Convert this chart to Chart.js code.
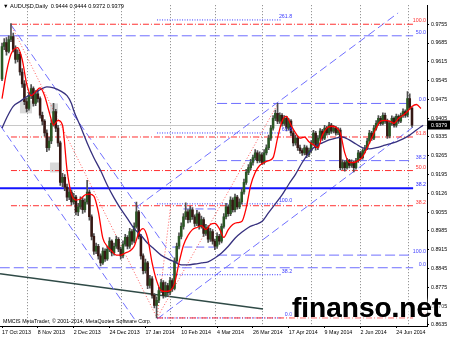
<!DOCTYPE html>
<html>
<head>
<meta charset="utf-8">
<script src="https://cdn.jsdelivr.net/npm/chart.js@4.4.1/dist/chart.umd.min.js"></script>
<style>
  html, body { margin: 0; padding: 0; background: #fff; }
  #wrap { position: relative; width: 450px; height: 337px; }
</style>
</head>
<body>
<div id="wrap"><canvas id="chart" width="450" height="337"></canvas></div>
<script>
// AUDUSD daily, 17 Oct 2013 .. early Jul 2014 (one entry per trading day)

const opens = [
  0.9551,0.9672,0.9687,0.9654,0.9698,0.9709,0.9661,0.9624,0.9643,0.9577,
  0.9533,0.9467,0.9441,0.9489,0.9515,0.9460,0.9496,0.9478,0.9416,0.9394,
  0.9350,0.9295,0.9320,0.9386,0.9430,0.9368,0.9313,0.9166,0.9185,0.9148,
  0.9111,0.9130,0.9093,0.9111,0.9056,0.9075,0.9100,0.9064,0.9093,0.9130,
  0.9038,0.8965,0.8910,0.8928,0.8892,0.8866,0.8910,0.8881,0.8917,0.8947,
  0.8903,0.8928,0.8954,0.8917,0.8892,0.8936,0.8961,0.8928,0.8983,0.8947,
  0.9002,0.9056,0.8965,0.8892,0.8837,0.8866,0.8782,0.8807,0.8745,0.8708,
  0.8727,0.8763,0.8793,0.8745,0.8782,0.8756,0.8800,0.8771,0.8873,0.8928,
  0.8965,0.9002,0.9038,0.9056,0.9027,0.9064,0.9038,0.9013,0.9049,0.9002,
  0.9027,0.8976,0.8998,0.8954,0.8983,0.8947,0.8928,0.8965,0.8947,0.9002,
  0.9038,0.9075,0.9049,0.9100,0.9064,0.9111,0.9075,0.9093,0.9130,0.9166,
  0.9203,0.9221,0.9240,0.9258,0.9276,0.9247,0.9269,0.9240,0.9276,0.9295,
  0.9331,0.9368,0.9405,0.9423,0.9394,0.9416,0.9386,0.9405,0.9368,0.9394,
  0.9350,0.9313,0.9331,0.9295,0.9284,0.9276,0.9295,0.9269,0.9284,0.9313,
  0.9350,0.9295,0.9331,0.9357,0.9331,0.9368,0.9350,0.9379,0.9357,0.9368,
  0.9350,0.9361,0.9221,0.9240,0.9221,0.9247,0.9229,0.9240,0.9221,0.9247,
  0.9276,0.9258,0.9284,0.9295,0.9320,0.9350,0.9331,0.9368,0.9386,0.9405,
  0.9386,0.9416,0.9394,0.9339,0.9386,0.9405,0.9379,0.9412,0.9394,0.9416,
  0.9430,0.9416,0.9478,0.9444
];
const highs = [
  0.9685,0.9702,0.9705,0.9712,0.9757,0.9722,0.9675,0.9660,0.9650,0.9590,
  0.9545,0.9480,0.9500,0.9530,0.9522,0.9508,0.9510,0.9485,0.9428,0.9400,
  0.9362,0.9335,0.9398,0.9460,0.9438,0.9378,0.9320,0.9200,0.9195,0.9160,
  0.9145,0.9138,0.9125,0.9118,0.9088,0.9112,0.9108,0.9105,0.9174,0.9138,
  0.9045,0.8975,0.8940,0.8935,0.8900,0.8922,0.8918,0.8928,0.8960,0.8952,
  0.8940,0.8966,0.8960,0.8925,0.8948,0.8972,0.8968,0.8995,0.8990,0.9015,
  0.9093,0.9062,0.8972,0.8900,0.8880,0.8872,0.8820,0.8815,0.8752,0.8740,
  0.8775,0.8805,0.8800,0.8795,0.8790,0.8812,0.8808,0.8885,0.8940,0.8978,
  0.9015,0.9050,0.9090,0.9065,0.9078,0.9072,0.9045,0.9062,0.9055,0.9040,
  0.9035,0.9010,0.9005,0.8995,0.8990,0.8955,0.8978,0.8972,0.9012,0.9050,
  0.9088,0.9082,0.9112,0.9108,0.9122,0.9118,0.9105,0.9142,0.9178,0.9215,
  0.9232,0.9252,0.9268,0.9288,0.9284,0.9280,0.9276,0.9288,0.9306,0.9342,
  0.9378,0.9415,0.9435,0.9460,0.9425,0.9422,0.9415,0.9412,0.9404,0.9400,
  0.9358,0.9342,0.9338,0.9305,0.9292,0.9305,0.9302,0.9294,0.9322,0.9360,
  0.9356,0.9340,0.9366,0.9364,0.9378,0.9375,0.9390,0.9386,0.9378,0.9375,
  0.9370,0.9368,0.9250,0.9246,0.9256,0.9252,0.9250,0.9246,0.9256,0.9285,
  0.9282,0.9292,0.9304,0.9330,0.9360,0.9356,0.9378,0.9396,0.9415,0.9412,
  0.9425,0.9424,0.9402,0.9394,0.9414,0.9410,0.9420,0.9418,0.9424,0.9440,
  0.9436,0.9504,0.9496,0.9444
];
const lows = [
  0.9545,0.9660,0.9640,0.9648,0.9690,0.9652,0.9610,0.9615,0.9565,0.9520,
  0.9455,0.9428,0.9435,0.9478,0.9450,0.9452,0.9465,0.9405,0.9380,0.9338,
  0.9280,0.9286,0.9310,0.9375,0.9355,0.9300,0.9155,0.9150,0.9135,0.9098,
  0.9102,0.9082,0.9085,0.9045,0.9042,0.9066,0.9050,0.9055,0.9085,0.9025,
  0.8952,0.8898,0.8900,0.8880,0.8855,0.8860,0.8872,0.8875,0.8908,0.8892,
  0.8895,0.8920,0.8908,0.8880,0.8885,0.8928,0.8918,0.8920,0.8935,0.8940,
  0.8995,0.8955,0.8880,0.8825,0.8828,0.8770,0.8772,0.8735,0.8698,0.8661,
  0.8718,0.8755,0.8735,0.8738,0.8745,0.8748,0.8760,0.8765,0.8865,0.8918,
  0.8955,0.8992,0.9028,0.9015,0.9018,0.9028,0.9002,0.9005,0.8992,0.8995,
  0.8965,0.8968,0.8942,0.8946,0.8936,0.8915,0.8920,0.8935,0.8940,0.8995,
  0.9030,0.9040,0.9042,0.9055,0.9056,0.9066,0.9068,0.9085,0.9122,0.9158,
  0.9195,0.9212,0.9230,0.9250,0.9238,0.9240,0.9232,0.9234,0.9268,0.9288,
  0.9322,0.9360,0.9396,0.9385,0.9386,0.9375,0.9378,0.9358,0.9360,0.9340,
  0.9302,0.9305,0.9285,0.9274,0.9266,0.9268,0.9258,0.9262,0.9276,0.9305,
  0.9286,0.9288,0.9322,0.9322,0.9325,0.9342,0.9344,0.9348,0.9350,0.9342,
  0.9344,0.9212,0.9214,0.9208,0.9215,0.9220,0.9222,0.9205,0.9215,0.9240,
  0.9250,0.9252,0.9276,0.9288,0.9312,0.9322,0.9325,0.9360,0.9378,0.9378,
  0.9380,0.9386,0.9330,0.9332,0.9378,0.9372,0.9372,0.9386,0.9388,0.9408,
  0.9408,0.9410,0.9438,0.9372
];
const closes = [
  0.9672,0.9687,0.9654,0.9698,0.9709,0.9661,0.9624,0.9643,0.9577,0.9533,
  0.9467,0.9441,0.9489,0.9515,0.9460,0.9496,0.9478,0.9416,0.9394,0.9350,
  0.9295,0.9320,0.9386,0.9430,0.9368,0.9313,0.9166,0.9185,0.9148,0.9111,
  0.9130,0.9093,0.9111,0.9056,0.9075,0.9100,0.9064,0.9093,0.9130,0.9038,
  0.8965,0.8910,0.8928,0.8892,0.8866,0.8910,0.8881,0.8917,0.8947,0.8903,
  0.8928,0.8954,0.8917,0.8892,0.8936,0.8961,0.8928,0.8983,0.8947,0.9002,
  0.9056,0.8965,0.8892,0.8837,0.8866,0.8782,0.8807,0.8745,0.8708,0.8727,
  0.8763,0.8793,0.8745,0.8782,0.8756,0.8800,0.8771,0.8873,0.8928,0.8965,
  0.9002,0.9038,0.9056,0.9027,0.9064,0.9038,0.9013,0.9049,0.9002,0.9027,
  0.8976,0.8998,0.8954,0.8983,0.8947,0.8928,0.8965,0.8947,0.9002,0.9038,
  0.9075,0.9049,0.9100,0.9064,0.9111,0.9075,0.9093,0.9130,0.9166,0.9203,
  0.9221,0.9240,0.9258,0.9276,0.9247,0.9269,0.9240,0.9276,0.9295,0.9331,
  0.9368,0.9405,0.9423,0.9394,0.9416,0.9386,0.9405,0.9368,0.9394,0.9350,
  0.9313,0.9331,0.9295,0.9284,0.9276,0.9295,0.9269,0.9284,0.9313,0.9350,
  0.9295,0.9331,0.9357,0.9331,0.9368,0.9350,0.9379,0.9357,0.9368,0.9350,
  0.9361,0.9221,0.9240,0.9221,0.9247,0.9229,0.9240,0.9221,0.9247,0.9276,
  0.9258,0.9284,0.9295,0.9320,0.9350,0.9331,0.9368,0.9386,0.9405,0.9386,
  0.9416,0.9394,0.9339,0.9386,0.9405,0.9379,0.9412,0.9394,0.9416,0.9430,
  0.9416,0.9478,0.9445,0.9379
];

// moving averages (drawn shifted forward, as on the terminal)
const fastMaIdx = [0,2,4,7,9,11,13,15,17,19,21,23,25,27,29,31,33,35,37,39,41,43,45,47,49,51,53,55,57,59,
  61,63,65,67,69,71,73,75,77,79,81,83,85,87,89,91,93,95,97,99,101,103,105,107,109,111,113,115,117,119,
  121,123,125,127,129,131,133,135,137,139,141,143,145,147,149,151,153,155,157,159,161,163,165,167,169,171,173,175,177,179,
  181,183,185,187];
const fastMaVal = [0.9478,0.9577,0.9643,0.9668,0.9624,0.9533,0.9489,0.9504,0.9518,0.9489,
  0.9430,0.9379,0.9397,0.9379,0.9214,0.9122,0.9100,0.9104,0.9119,0.9122,
  0.9115,0.9056,0.8958,0.8928,0.8910,0.8895,0.8895,0.8903,0.8910,0.8928,
  0.8976,0.8994,0.8958,0.8866,0.8800,0.8763,0.8760,0.8763,0.8789,0.8866,
  0.8932,0.8968,0.8990,0.8998,0.9005,0.8990,0.9009,0.9013,0.8994,0.8961,
  0.8990,0.9009,0.9016,0.9020,0.9071,0.9155,0.9203,0.9229,0.9240,0.9247,
  0.9258,0.9331,0.9394,0.9412,0.9379,0.9350,0.9331,0.9335,0.9317,0.9306,
  0.9295,0.9342,0.9368,0.9375,0.9372,0.9350,0.9276,0.9240,0.9240,0.9247,
  0.9262,0.9295,0.9331,0.9368,0.9394,0.9397,0.9394,0.9386,0.9405,0.9416,
  0.9430,0.9449,0.9456,0.9441];
const slowMaIdx = [0,2,5,8,11,14,17,20,23,26,29,31,32,35,38,41,44,47,50,53,56,59,62,65,68,71,74,77,80,83,
  86,89,92,95,98,101,104,107,110,113,116,119,122,125,128,131,134,137,140,143,146,149,152,155,158,161,164,167,170,173,
  176,179,182,185,188];
const slowMaVal = [0.9368,0.9405,0.9449,0.9467,0.9485,0.9496,0.9511,0.9522,0.9518,0.9507,
  0.9489,0.9460,0.9434,0.9375,0.9313,0.9258,0.9210,0.9155,0.9108,0.9067,
  0.9031,0.8994,0.8969,0.8939,0.8917,0.8895,0.8881,0.8870,0.8859,0.8859,
  0.8862,0.8866,0.8870,0.8884,0.8903,0.8928,0.8958,0.8980,0.8998,0.9009,
  0.9020,0.9053,0.9086,0.9119,0.9159,0.9196,0.9240,0.9276,0.9302,0.9313,
  0.9324,0.9331,0.9335,0.9324,0.9309,0.9295,0.9291,0.9295,0.9302,0.9309,
  0.9317,0.9328,0.9342,0.9361,0.9379];

// axes
const dateTicks  = [0,16,32,48,64,80,96,112,128,144,160,176];
const dateLabels = ["17 Oct 2013","8 Nov 2013","2 Dec 2013","24 Dec 2013","17 Jan 2014","10 Feb 2014",
                    "4 Mar 2014","26 Mar 2014","17 Apr 2014","9 May 2014","2 Jun 2014","24 Jun 2014"];
const monthStarts = [11,32,53,75,95,116,138,160,181];
const priceTicks = [0.9755,0.9685,0.9615,0.9545,0.9475,0.9405,0.9335,0.9265,0.9195,0.9126,
                    0.9055,0.8985,0.8915,0.8845,0.8775,0.8705,0.8635];

// fibonacci levels (price, label, first bar)
const redFibPrices  = [0.9755,0.9335,0.9210,0.9079,0.8661];
const redFibText    = ["100.0","61.8","50.0","38.2","0.0"];
const dashFibPrices = [0.9712,0.9460,0.9247,0.8895,0.8848];
const dashFibText   = ["50.0","0.0","38.2","100.0","0.0"];
const dashFibFrom   = [-1,96,96,96,-1];
const dotFibPrices  = [0.9771,0.9350,0.9086,0.8822,0.8661];
const dotFibText    = ["261.8","61.8","100.0","38.2","0.0"];
const keyLevel = 0.9144, keyLevelText = "38.2";
const shortLevels = [0.9067,0.8925];
const shortFrom   = [81,76];
const shortTo     = [97,96];

// trend lines [bar1, price1, bar2, price2]
const channelLines = [[4,0.9753,79.5,0.8848],[-0.9,0.9379,59.4,0.8653],
                      [60.3,0.9075,176.8,0.9797],[69.2,0.8657,183.5,0.9372]];
const longTrend = [-0.9,0.8826,116.5,0.8694];
const fibDiagonals = [[4,0.9753,69.2,0.8661],[69.2,0.8661,75.4,0.9086],[69.2,0.8661,123.2,0.9460]];
const shadeBoxes = [[8,13.4,0.9471,0.9423],[21.4,25,0.9460,0.9423],[21.4,25.9,0.9240,0.9203]];

const FONT = '"Liberation Sans", Arial, sans-serif';
const LAST = closes.length - 1;
const LEVEL_END = 183.5;
const DOT_END = 124.5, DOT_LABEL_AT = 129.5;
const RED = "#ff3030", BLUE_DASH = "#6f6fff", BLUE_DOT = "#3a3aff";

function seg(x1, y1, x2, y2, style) {
  return Object.assign({
    type: "line",
    data: [{ x: x1, y: y1 }, { x: x2, y: y2 }],
    pointRadius: 0, fill: false, borderWidth: 1, tension: 0,
  }, style);
}

const datasets = [];

datasets.push({
  type: "line", label: "fast MA",
  data: fastMaIdx.map((i, k) => ({ x: i, y: fastMaVal[k] })),
  borderColor: "#ff0000", borderWidth: 1.3, pointRadius: 0,
  tension: 0.35, cubicInterpolationMode: "monotone",
});
datasets.push({
  type: "line", label: "slow MA",
  data: slowMaIdx.map((i, k) => ({ x: i, y: slowMaVal[k] })),
  borderColor: "#36307e", borderWidth: 1.3, pointRadius: 0,
  tension: 0.35, cubicInterpolationMode: "monotone",
});

// candle bodies and wicks as floating bars
datasets.push({
  type: "bar", label: "body", grouped: false,
  data: closes.map((c, i) => ({ x: i, y: [opens[i], c] })),
  backgroundColor: closes.map((c, i) => c >= opens[i] ? "#2a5724" : "#361814"),
  barThickness: 1.9, minBarLength: 0.8, borderWidth: 0,
});
datasets.push({
  type: "bar", label: "wick", grouped: false,
  data: closes.map((c, i) => ({ x: i, y: [lows[i], highs[i]] })),
  backgroundColor: "#505050",
  barThickness: 1, borderWidth: 0,
});

// levels
datasets.push(seg(-1, keyLevel, LEVEL_END, keyLevel, { borderColor: "#1414ff", borderWidth: 2 }));
redFibPrices.forEach((p, k) => datasets.push(seg(k === 4 ? 69.2 : 4, p, LEVEL_END, p,
  { borderColor: RED, borderDash: [6, 2, 1, 2] })));
dashFibPrices.forEach((p, k) => datasets.push(seg(dashFibFrom[k], p, LEVEL_END, p,
  { borderColor: BLUE_DASH, borderDash: [10, 4] })));
dotFibPrices.forEach(p => datasets.push(seg(69.2, p, DOT_END, p,
  { borderColor: BLUE_DOT, borderDash: [1, 1.5] })));
shortLevels.forEach((p, k) => datasets.push(seg(shortFrom[k], p, shortTo[k], p,
  { borderColor: BLUE_DASH, borderDash: [8, 4] })));
channelLines.forEach(l => datasets.push(seg(l[0], l[1], l[2], l[3],
  { borderColor: BLUE_DASH, borderDash: [8, 4] })));
fibDiagonals.forEach(l => datasets.push(seg(l[0], l[1], l[2], l[3],
  { borderColor: "#ff5a5a", borderDash: [1, 2] })));
datasets.push(seg(longTrend[0], longTrend[1], longTrend[2], longTrend[3],
  { borderColor: "#2f4a46", borderWidth: 1.5 }));

// ── grid, labels, watermark ──────────────────────────────────────────────────
const overlay = {
  id: "overlay",
  beforeDatasetsDraw(chart) {
    const { ctx, chartArea: a, scales: { x, y } } = chart;
    ctx.save();
    ctx.fillStyle = "#d8d8d8";
    shadeBoxes.forEach(([i1, i2, p1, p2]) => {
      const x1 = x.getPixelForValue(i1), x2 = x.getPixelForValue(i2);
      const y1 = y.getPixelForValue(p1), y2 = y.getPixelForValue(p2);
      ctx.fillRect(x1, y1, x2 - x1, y2 - y1);
    });
    ctx.strokeStyle = "#808080";
    ctx.lineWidth = 1;
    ctx.setLineDash([1, 2]);
    monthStarts.forEach(i => {
      const px = Math.round(x.getPixelForValue(i)) + 0.5;
      ctx.beginPath(); ctx.moveTo(px, a.top); ctx.lineTo(px, a.bottom); ctx.stroke();
    });
    ctx.setLineDash([]);
    ctx.strokeStyle = "#c8c8c8";
    const by = Math.round(y.getPixelForValue(closes[LAST])) + 0.5;
    ctx.beginPath(); ctx.moveTo(a.left, by); ctx.lineTo(a.right, by); ctx.stroke();
    ctx.restore();
  },
  afterDraw(chart) {
    const { ctx, chartArea: a, scales: { x, y } } = chart;
    ctx.save();
    ctx.font = "5.3px " + FONT;
    ctx.textAlign = "right";
    ctx.textBaseline = "bottom";
    const rx = a.right - 1;
    const lab = (t, px, p, c) => { ctx.fillStyle = c; ctx.fillText(t, px, y.getPixelForValue(p) - 0.8); };
    redFibPrices.forEach((p, k) => lab(redFibText[k], rx, p, RED));
    dashFibPrices.forEach((p, k) => lab(dashFibText[k], rx, p, "#4646ff"));
    lab(keyLevelText, rx, keyLevel, "#2020ff");
    const dx = x.getPixelForValue(DOT_LABEL_AT);
    dotFibPrices.forEach((p, k) => lab(dotFibText[k], dx, p, BLUE_DOT));

    // title and copyright
    ctx.textAlign = "left";
    ctx.textBaseline = "middle";
    ctx.fillStyle = "#000";
    ctx.font = "5.6px " + FONT;
    ctx.fillText("\u25BC AUDUSD,Daily  " + [opens[LAST], highs[LAST], lows[LAST], closes[LAST]]
      .map(v => v.toFixed(4)).join(" "), 3, 6);
    ctx.font = "5.3px " + FONT;
    ctx.fillText("MMCIS MetaTrader, \u00A9 2001-2014, MetaQuotes Software Corp.", 3, 322);

    // current price box
    const by = Math.round(y.getPixelForValue(closes[LAST]));
    ctx.fillStyle = "#000";
    ctx.fillRect(a.right + 1, by - 4.5, 450 - a.right - 1, 9);
    ctx.fillStyle = "#fff";
    ctx.fillText(closes[LAST].toFixed(4), a.right + 4, by + 0.3);

    // watermark
    ctx.font = "bold 28px " + FONT;
    ctx.textBaseline = "alphabetic";
    ctx.shadowColor = "rgba(255,255,255,1)";
    ctx.shadowBlur = 6;
    ctx.fillStyle = "#000";
    ctx.fillText("finanso.net", 292, 317);
    ctx.fillText("finanso.net", 292, 317);
    ctx.restore();
  },
};

new Chart(document.getElementById("chart"), {
  type: "bar",
  data: { datasets },
  options: {
    responsive: false,
    animation: false,
    devicePixelRatio: 1,
    layout: { padding: 0 },
    plugins: { legend: { display: false }, tooltip: { enabled: false } },
    scales: {
      x: {
        type: "linear", min: -0.9, max: 189.7, offset: false,
        afterFit: s => { s.height = 11; },
        afterBuildTicks: s => { s.ticks = dateTicks.map(v => ({ value: v })); },
        ticks: {
          callback: v => dateLabels[dateTicks.indexOf(v)],
          font: { family: FONT, size: 5.3 }, color: "#000",
          align: "start", maxRotation: 0, autoSkip: false, padding: 1,
        },
        grid: { drawOnChartArea: false, tickLength: 2, color: "#000", offset: false },
        border: { color: "#000" },
      },
      y: {
        type: "linear", position: "right", min: 0.8631, max: 0.9826, beginAtZero: false,
        afterFit: s => { s.width = 23; },
        afterBuildTicks: s => { s.ticks = priceTicks.map(v => ({ value: v })); },
        ticks: {
          callback: v => v.toFixed(4),
          font: { family: FONT, size: 5.3 }, color: "#000", padding: 2,
        },
        grid: { drawOnChartArea: false, tickLength: 2, color: "#000" },
        border: { color: "#000" },
      },
    },
  },
  plugins: [overlay],
});
</script>
</body>
</html>
